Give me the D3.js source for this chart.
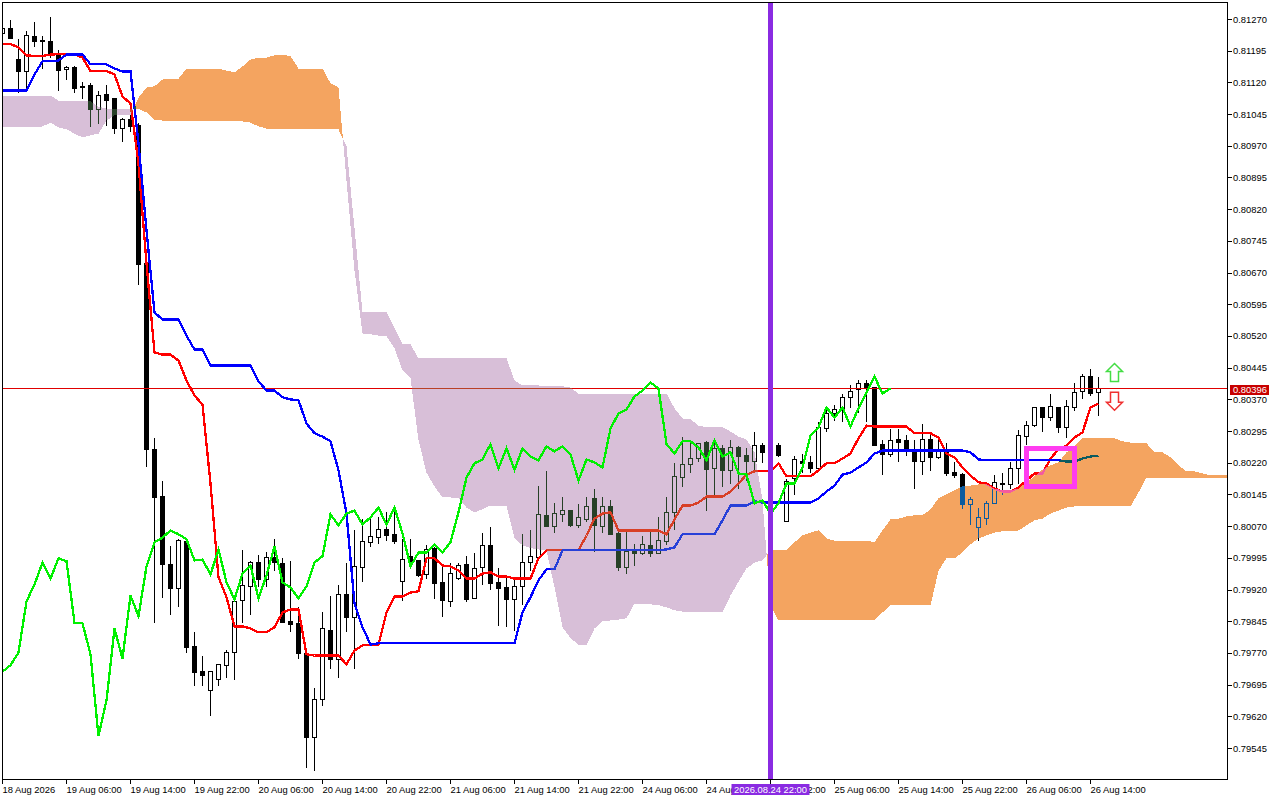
<!DOCTYPE html>
<html><head><meta charset="utf-8">
<script src="https://cdn.jsdelivr.net/npm/d3@7"></script>
<style>
html,body{margin:0;padding:0;background:#fff;overflow:hidden}
svg{display:block}
text{font-family:"Liberation Sans",sans-serif;font-size:9.4px;fill:#000}
</style></head><body>
<script>
// all prices in points (1 point = 0.00001)
const opens=[81237,81249,81175,81147,81230,81220,81218,81185,81152,81156,81112,81114,81057,81093,81083,81012,81033,81019,80693,80253,80141,79981,79924,80035,79787,79727,79682,79708,79742,79772,79895,79929,79985,79945,79997,79983,79846,79841,79770,79571,79661,79824,79756,79910,79855,79973,80033,80044,80063,80052,79940,80000,79990,79957,80019,79938,79893,79947,79981,79900,79973,80026,79938,79926,79898,79929,79985,79997,80097,80070,80099,80108,80073,80087,80137,80070,80118,80054,79973,80011,80007,80026,80007,80035,80104,80186,80217,80231,80269,80208,80255,80203,80257,80238,80224,80262,80238,80262,80082,80184,80224,80222,80208,80302,80338,80347,80376,80395,80409,80399,80265,80241,80276,80274,80253,80224,80276,80234,80248,80198,80193,80123,80068,80089,80125,80172,80170,80208,80283,80309,80352,80328,80352,80305,80352,80390,80425,80388];
const closes=[81249,81225,81147,81232,81218,81219,81185,81149,81156,81107,81111,81057,81090,81078,81012,81033,81017,80690,80253,80139,79981,79924,80037,79784,79725,79718,79727,79744,79772,79893,79931,79985,79945,79997,79985,79843,79839,79770,79571,79661,79829,79756,79910,79855,79976,80035,80047,80063,80049,80035,79992,79988,79955,80016,79936,79895,79959,79978,79898,79971,80026,79936,79924,79898,79929,79985,80000,80099,80070,80101,80108,80073,80092,80118,80073,80118,80052,79973,80011,80007,80028,80007,80037,80104,80189,80217,80231,80267,80205,80255,80203,80257,80236,80224,80262,80246,80255,80238,80177,80229,80220,80208,80305,80338,80347,80376,80390,80409,80397,80262,80241,80274,80269,80253,80224,80276,80234,80248,80196,80191,80123,80134,80092,80125,80175,80170,80208,80286,80309,80352,80328,80354,80305,80354,80388,80425,80385,80396];
const highs=[81253,81270,81223,81242,81265,81232,81277,81197,81161,81161,81123,81119,81100,81114,81085,81038,81043,81024,80695,80279,80179,80023,80040,80035,79820,79765,79727,79746,79779,79900,80014,79988,80004,80009,80040,79995,79988,79881,79772,79687,79869,79905,79931,79985,80061,80089,80089,80092,80104,80118,80040,80040,79990,80026,80021,79976,79983,79983,80000,80007,80056,80070,79973,79955,79943,80052,80063,80165,80201,80125,80139,80108,80123,80141,80160,80141,80132,80061,80059,80030,80047,80059,80092,80141,80220,80281,80267,80269,80272,80274,80262,80274,80260,80257,80295,80269,80274,80269,80182,80238,80243,80238,80317,80354,80357,80385,80404,80416,80418,80399,80276,80302,80302,80288,80276,80314,80295,80274,80269,80222,80198,80139,80113,80130,80191,80196,80222,80298,80321,80352,80354,80385,80352,80369,80411,80432,80442,80423];
const lows=[81230,81223,81095,81109,81206,81154,81180,81100,81126,81097,81081,81015,81022,81019,80998,80979,81003,80641,80210,79843,79900,79862,79879,79770,79692,79692,79621,79692,79713,79708,79841,79862,79926,79926,79964,79841,79820,79756,79500,79491,79645,79732,79713,79820,79732,79940,80021,80030,80035,80028,79893,79973,79950,79947,79898,79855,79879,79943,79891,79900,79931,79921,79836,79832,79822,79884,79966,79997,80068,80054,80082,80070,80066,80080,80009,80054,80052,79966,79957,79978,80002,79997,80007,80026,80061,80163,80196,80222,80106,80144,80163,80172,80158,80179,80198,80220,80227,80234,80082,80144,80198,80196,80208,80293,80321,80317,80350,80338,80317,80260,80193,80234,80224,80238,80160,80193,80201,80229,80189,80184,80111,80073,80035,80075,80125,80144,80158,80172,80262,80305,80293,80319,80291,80279,80343,80373,80378,80331];
const tenkan=[81212,81212,81204,81185,81184,81184,81187,81188,81188,81188,81180,81148,81148,81148,81140,81088,81071,80929,80693,80482,80477,80477,80463,80416,80380,80359,80172,79950,79903,79834,79834,79829,79820,79820,79832,79867,79874,79874,79768,79765,79765,79765,79765,79744,79777,79789,79791,79791,79867,79905,79905,79914,79917,79995,79995,79978,79976,79966,79947,79947,79959,79962,79952,79952,79947,79947,79947,79995,80014,80014,80014,80014,80014,80049,80089,80101,80104,80061,80061,80061,80061,80061,80061,80052,80087,80120,80120,80127,80141,80141,80141,80153,80172,80193,80201,80201,80201,80220,80189,80189,80189,80189,80203,80220,80220,80231,80243,80279,80309,80307,80307,80307,80307,80307,80291,80291,80291,80281,80243,80234,80210,80191,80175,80172,80160,80153,80153,80163,80179,80196,80196,80231,80253,80262,80281,80293,80352,80361];
const kijun=[81102,81102,81102,81102,81140,81171,81171,81173,81187,81187,81187,81164,81164,81164,81154,81147,81147,80977,80771,80577,80560,80560,80560,80522,80489,80489,80451,80451,80451,80451,80451,80451,80414,80392,80392,80376,80371,80369,80314,80291,80283,80272,80203,80101,79888,79832,79791,79794,79794,79794,79794,79794,79794,79794,79794,79794,79794,79794,79794,79794,79794,79794,79794,79794,79794,79867,79903,79943,79969,79969,80014,80014,80014,80014,80014,80014,80014,80014,80014,80014,80014,80014,80014,80016,80021,80052,80052,80052,80052,80052,80085,80120,80120,80120,80130,80127,80127,80127,80127,80127,80127,80127,80137,80153,80167,80193,80198,80210,80222,80243,80250,80250,80250,80250,80250,80250,80250,80250,80250,80250,80250,80246,80229,80227,80227,80227,80227,80227,80227,80227,80227,80227,80227,80224,80224,80231,80236,80238];
const chikou=[79727,79742,79772,79893,79933,79985,79947,79995,79988,79843,79841,79768,79574,79659,79829,79758,79907,79858,79976,80033,80044,80061,80052,80040,79990,79992,79957,80016,79938,79898,79959,79978,79900,79955,80023,79938,79926,79900,79929,79985,80000,80099,80073,80101,80108,80075,80092,80115,80075,80115,80054,79976,80009,80009,80028,80009,80033,80104,80186,80220,80229,80265,80208,80255,80205,80255,80236,80227,80260,80248,80260,80241,80179,80229,80222,80210,80302,80338,80347,80378,80392,80411,80397,80265,80243,80272,80272,80257,80227,80274,80236,80246,80196,80193,80125,80132,80101,80125,80172,80172,80210,80286,80305,80352,80328,80352,80307,80350,80388,80425,80385,80397];
const senkouA=[81015,81015,81015,81015,81015,81017,81026,81015,81010,81000,80991,80996,81000,81031,81043,81043,81043,81085,81109,81112,81128,81130,81130,81154,81154,81154,81154,81154,81149,81145,81159,81175,81180,81180,81185,81187,81183,81154,81154,81154,81154,81119,81109,80889,80676,80527,80525,80522,80520,80492,80440,80421,80274,80198,80165,80139,80139,80137,80115,80104,80111,80120,80120,80120,80042,80026,80019,80016,80014,79926,79832,79806,79791,79789,79829,79846,79848,79850,79853,79888,79888,79886,79884,79879,79872,79869,79869,79867,79867,79867,79867,79907,79940,79971,79985,79990,80014,80014,80014,80033,80049,80056,80061,80042,80037,80037,80037,80037,80037,80033,80061,80087,80089,80094,80097,80097,80111,80137,80146,80156,80165,80167,80170,80170,80160,80156,80156,80160,80175,80189,80205,80215,80222,80246,80260,80279,80279,80279,80279,80279,80272,80269,80269,80267,80246,80246,80234,80215,80201,80201,80196,80191,80191,80193];
const senkouB=[81090,81090,81090,81090,81090,81090,81090,81078,81076,81076,81076,81076,81064,81059,81059,81059,81059,81059,81050,81033,81031,81031,81031,81031,81031,81031,81031,81031,81031,81031,81029,81026,81017,81012,81010,81010,81010,81010,81010,81010,81010,81010,81010,80970,80776,80577,80577,80577,80577,80539,80501,80501,80468,80468,80468,80468,80468,80468,80468,80468,80468,80468,80468,80468,80416,80404,80404,80404,80402,80402,80402,80399,80385,80385,80385,80385,80385,80385,80385,80385,80385,80385,80385,80385,80350,80326,80324,80309,80305,80305,80305,80295,80283,80276,80246,80132,79884,79848,79848,79848,79848,79848,79848,79848,79848,79848,79848,79848,79848,79848,79867,79884,79884,79884,79884,79884,79884,79966,79995,79995,80009,80028,80042,80049,80056,80059,80059,80061,80073,80085,80089,80101,80108,80115,80118,80118,80118,80118,80118,80118,80118,80118,80151,80186,80186,80186,80186,80186,80186,80186,80186,80186,80186,80186];
const priceLabels=["0.81270","0.81195","0.81120","0.81045","0.80970","0.80895","0.80820","0.80745","0.80670","0.80595","0.80520","0.80445","0.80370","0.80295","0.80220","0.80145","0.80070","0.79995","0.79920","0.79845","0.79770","0.79695","0.79620","0.79545"];
const timeLabels=["18 Aug 2026","19 Aug 06:00","19 Aug 14:00","19 Aug 22:00","20 Aug 06:00","20 Aug 14:00","20 Aug 22:00","21 Aug 06:00","21 Aug 14:00","21 Aug 22:00","24 Aug 06:00","24 Aug 14:00","24 Aug 22:00","25 Aug 06:00","25 Aug 14:00","25 Aug 22:00","26 Aug 06:00","26 Aug 14:00"];
const lastPrice=80396, lastPriceLabel="0.80396";
const crossBar=96, crossLabel="2026.08.24 22:00";
const boxBars=[128,134], boxPrices=[80256,80166];
const arrowBar=139, arrowUpPrice=80456, arrowDownPrice=80388;

const W=1280,H=800,L=2,R=1227,T=2,B=779;
const x=d3.scaleLinear().domain([0,153]).range([2.5,1226.5]);
const y=d3.scaleLinear().domain([81270,79545]).range([19.5,748.5]);
const svg=d3.select("body").append("svg").attr("width",W).attr("height",H);
svg.append("rect").attr("width",W).attr("height",H).attr("fill","#fff");
svg.append("defs").append("clipPath").attr("id","plot").append("rect").attr("x",L+1).attr("y",T+1).attr("width",R-L-1).attr("height",B-T-1);
const plot=svg.append("g").attr("clip-path","url(#plot)");
// the clipped group is its own blending context, so it needs its own white backdrop
plot.append("rect").attr("x",L).attr("y",T).attr("width",R-L).attr("height",B-T).attr("fill","#fff");

// candles
const g=plot.append("g").attr("shape-rendering","crispEdges");
opens.forEach((o,i)=>{
  const c=closes[i],cx=x(i);
  g.append("line").attr("x1",cx).attr("x2",cx).attr("y1",y(highs[i])).attr("y2",y(lows[i])).attr("stroke","#000");
  const top=Math.round(y(Math.max(o,c))-.5)+.5,bot=Math.round(y(Math.min(o,c))-.5)+.5;
  g.append("rect").attr("x",cx-2).attr("width",4).attr("y",top).attr("height",Math.max(bot-top,1))
   .attr("fill",c>=o?"#fff":"#000").attr("stroke","#000");
});
// price line
plot.append("line").attr("x1",L).attr("x2",R).attr("y1",y(lastPrice)).attr("y2",y(lastPrice)).attr("stroke","#e00000").attr("shape-rendering","crispEdges");
// tenkan, kijun
const lineGen=d3.line().x((d,i)=>x(i)).y(d=>y(d));
plot.append("path").attr("d",lineGen(tenkan)).attr("fill","none").attr("stroke","#ff0000").attr("stroke-width",2.3).attr("shape-rendering","crispEdges");
plot.append("path").attr("d",lineGen(kijun)).attr("fill","none").attr("stroke","#0000ff").attr("stroke-width",2.3).attr("shape-rendering","crispEdges");
// cloud, painted with difference blending so what lies beneath inverts as in the terminal
const runs=[];let cur=null;
senkouA.forEach((a,i)=>{
  const b=senkouB[i],s=a>=b?1:-1;
  if(cur&&cur.s!==s){
    const p=cur.pts[cur.pts.length-1],d0=p.a-p.b,d1=a-b,t=d0/(d0-d1);
    const m=p.a+(a-p.a)*t,q={i:p.i+t,a:m,b:m};
    cur.pts.push(q);cur={s,pts:[q]};runs.push(cur);
  } else if(!cur){cur={s,pts:[]};runs.push(cur);}
  cur.pts.push({i,a,b});
});
const areaGen=d3.area().x(d=>x(d.i)).y0(d=>y(d.a)).y1(d=>y(d.b));
plot.append("g").selectAll("path").data(runs).join("path").attr("d",r=>areaGen(r.pts))
  .attr("fill",r=>r.s>0?"#0B5B9F":"#274027").style("mix-blend-mode","difference").attr("shape-rendering","crispEdges");
// chikou
plot.append("path").attr("d",lineGen(chikou)).attr("fill","none").attr("stroke","#00f000").attr("stroke-width",2.3).attr("shape-rendering","crispEdges");
// box
const bx=x(boxBars[0]),bw=x(boxBars[1])-bx,by=y(boxPrices[0]),bh=y(boxPrices[1])-by;
plot.append("rect").attr("x",bx).attr("y",by).attr("width",bw).attr("height",bh).attr("fill","none").attr("stroke","#ff3cf0").attr("stroke-width",5).attr("shape-rendering","crispEdges");
// arrows
const ax=x(arrowBar),uy=y(arrowUpPrice),dy=y(arrowDownPrice);
const up=d3.path();up.moveTo(ax,uy);up.lineTo(ax+8,uy+8);up.lineTo(ax+4,uy+8);up.lineTo(ax+4,uy+18);up.lineTo(ax-4,uy+18);up.lineTo(ax-4,uy+8);up.lineTo(ax-8,uy+8);up.closePath();
const dn=d3.path();dn.moveTo(ax,dy+18);dn.lineTo(ax+8,dy+10);dn.lineTo(ax+4,dy+10);dn.lineTo(ax+4,dy);dn.lineTo(ax-4,dy);dn.lineTo(ax-4,dy+10);dn.lineTo(ax-8,dy+10);dn.closePath();
svg.append("path").attr("d",up.toString()).attr("fill","#fff").attr("stroke","#44dd44").attr("stroke-width",1.5);
svg.append("path").attr("d",dn.toString()).attr("fill","#fff").attr("stroke","#f03030").attr("stroke-width",1.5);
// crosshair line
const vx=x(crossBar);
svg.append("line").attr("x1",vx).attr("x2",vx).attr("y1",T).attr("y2",B).attr("stroke","#8A2BE2").attr("stroke-width",5).attr("shape-rendering","crispEdges");
// axes
const yAxis=d3.axisRight(y).tickValues(priceLabels.map(s=>Math.round(+s*1e5))).tickFormat(v=>priceLabels.find(s=>Math.round(+s*1e5)===v)).tickSize(5).tickPadding(1).offset(0);
const ya=svg.append("g").attr("transform",`translate(${R},0)`).call(yAxis);
ya.select(".domain").remove();
ya.selectAll("text").style("font-family",'"Liberation Sans",sans-serif').style("font-size","9.4px").attr("dy","3");
ya.selectAll("line").attr("shape-rendering","crispEdges");
const xt=timeLabels.map((s,k)=>k*8);
const xAxis=d3.axisBottom(x).tickValues(xt).tickFormat((v,k)=>timeLabels[k]).tickSize(5).tickPadding(2).offset(0);
const xa=svg.append("g").attr("transform",`translate(0,${B})`).call(xAxis);
xa.select(".domain").remove();
xa.selectAll("text").style("font-family",'"Liberation Sans",sans-serif').style("font-size","9.4px").attr("text-anchor","start").attr("dx","0");
xa.selectAll("line").attr("shape-rendering","crispEdges");
// frame
svg.append("rect").attr("x",L+.5).attr("y",T+.5).attr("width",R-L).attr("height",B-T).attr("fill","none").attr("stroke","#000").attr("shape-rendering","crispEdges");
// price tag
const ty=Math.round(y(lastPrice));
svg.append("rect").attr("x",1230).attr("y",ty-4).attr("width",39).attr("height",10).attr("fill","#c80000");
svg.append("text").attr("x",1233).attr("y",ty+4).text(lastPriceLabel).style("fill","#fff");
// crosshair tag
svg.append("rect").attr("x",vx-39).attr("y",784).attr("width",78).attr("height",11).attr("fill","#8A2BE2");
svg.append("text").attr("x",vx).attr("y",793).attr("text-anchor","middle").text(crossLabel).style("fill","#fff");
</script>
</body></html>
